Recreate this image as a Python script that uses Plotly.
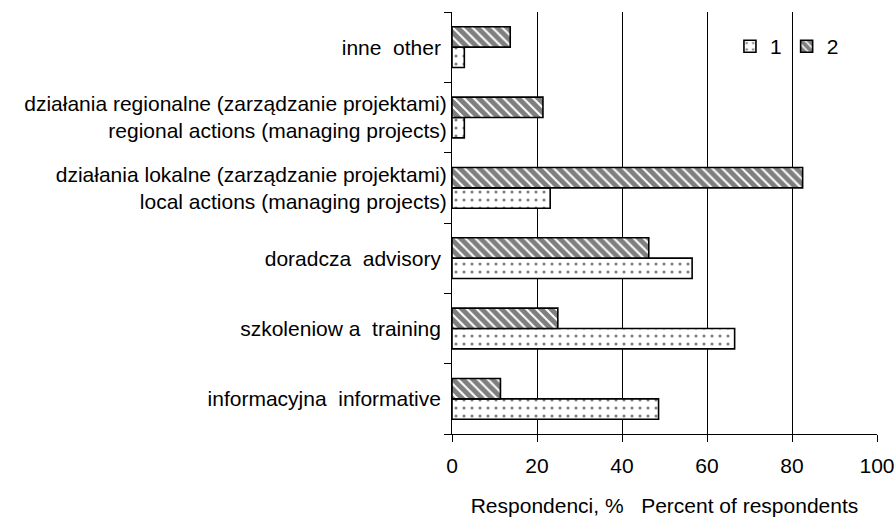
import plotly.graph_objects as go

categories = [
    "informacyjna\u00a0 informative\u00a0",
    "szkoleniow a\u00a0 training\u00a0",
    "doradcza\u00a0 advisory\u00a0",
    "działania lokalne (zarządzanie projektami)<br>local actions (managing projects)",
    "działania regionalne (zarządzanie projektami)<br>regional actions (managing projects)",
    "inne\u00a0 other\u00a0",
]
series_1 = [48.6, 66.5, 56.5, 23.1, 2.9, 2.9]
series_2 = [11.4, 24.9, 46.3, 82.5, 21.4, 13.7]
series_names = ["1", "2"]
x_ticks = [0, 20, 40, 60, 80, 100]

FONT = "Liberation Sans, Arial, sans-serif"
FS = 21

fig = go.Figure()
fig.add_trace(go.Bar(
    y=categories, x=series_1, name=series_names[0], orientation="h",
    marker=dict(color="white", line=dict(color="black", width=1.6),
                pattern=dict(shape=".", fgcolor="black", bgcolor="white", size=8, solidity=0.12)),
))
fig.add_trace(go.Bar(
    y=categories, x=series_2, name=series_names[1], orientation="h",
    marker=dict(color="white", line=dict(color="black", width=1.6),
                pattern=dict(shape="\\", fgcolor="black", bgcolor="white", size=7, solidity=0.72)),
))

fig.add_shape(type="rect", xref="x", yref="paper", x0=65, x1=95, y0=0.823, y1=1.0,
              fillcolor="white", line=dict(width=0), layer="between")

fig.update_layout(
    width=895, height=517,
    margin=dict(l=452, r=18, t=12, b=83, autoexpand=False),
    paper_bgcolor="white", plot_bgcolor="white",
    barmode="group", bargap=0.42, bargroupgap=0,
    font=dict(family=FONT, size=FS, color="black"),
    legend=dict(orientation="h", x=0.654, y=0.918, xanchor="left", yanchor="middle",
                bgcolor="rgba(0,0,0,0)", font=dict(size=FS), traceorder="normal",
                itemwidth=30),
    showlegend=True,
)
fig.update_xaxes(
    range=[0, 100], tickvals=x_ticks, ticktext=[str(v) for v in x_ticks],
    showgrid=True, gridcolor="black", gridwidth=1,
    showline=True, linecolor="black", linewidth=1,
    ticks="outside", ticklen=7, tickcolor="black", ticklabelstandoff=6,
    zeroline=False, automargin=False,
    title=dict(text="Respondenci, %\u00a0\u00a0 Percent of respondents", standoff=23,
               font=dict(size=FS)),
)
fig.update_yaxes(
    categoryorder="array", categoryarray=categories,
    showgrid=False, showline=True, linecolor="black", linewidth=1,
    ticks="outside", tickson="boundaries", ticklen=7, tickcolor="black",
    ticklabelstandoff=0, automargin=False,
)

fig.write_html("out.html", config={"displayModeBar": False},
               post_script="document.body.style.margin='0px';")
